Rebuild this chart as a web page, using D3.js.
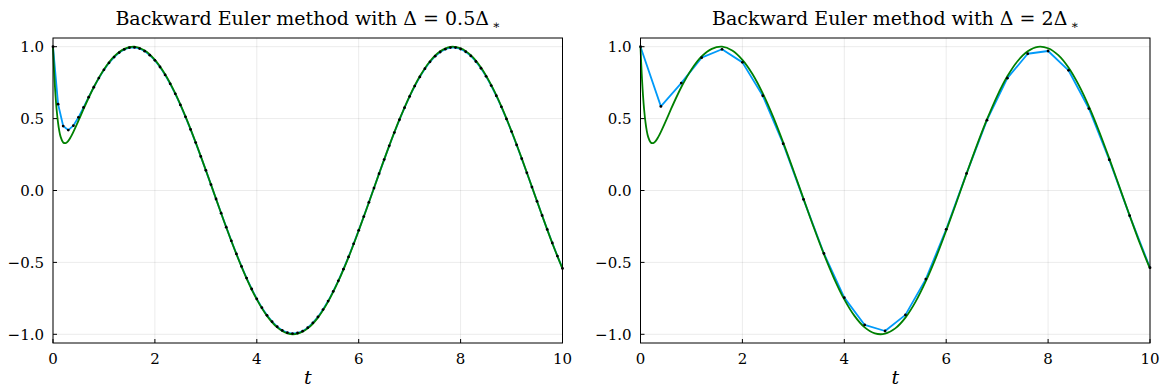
<!DOCTYPE html>
<html>
<head>
<meta charset="utf-8">
<script src="https://cdn.jsdelivr.net/npm/d3@7"></script>
<style>
  body { margin: 0; background: #fff; }
</style>
</head>
<body>
<script>
// exact solution samples
const tExact = [0, 0.01, 0.02, 0.03, 0.05, 0.07, 0.1, 0.12, 0.15, 0.2, 0.25, 0.3, 0.35, 0.4, 0.5, 0.6, 0.7, 0.8, 0.9,
  1.0, 1.2, 1.4, 1.6, 1.8, 2.0, 2.2, 2.4, 2.6, 2.8, 3.0, 3.2, 3.4, 3.6, 3.8, 4.0, 4.2, 4.4, 4.6, 4.8, 5.0,
  5.2, 5.4, 5.6, 5.8, 6.0, 6.2, 6.4, 6.6, 6.8, 7.0, 7.2, 7.4, 7.6, 7.8, 8.0, 8.2, 8.4, 8.6, 8.8, 9.0,
  9.2, 9.4, 9.6, 9.8, 10.0];
const uExact = [1.0, 0.915, 0.839, 0.771, 0.657, 0.567, 0.468, 0.421, 0.373, 0.334, 0.330, 0.345, 0.373, 0.408, 0.486, 0.567, 0.645, 0.718, 0.783,
  0.842, 0.932, 0.985, 1.000, 0.974, 0.909, 0.809, 0.676, 0.516, 0.335, 0.141, -0.058, -0.256, -0.443, -0.612, -0.757, -0.872, -0.952, -0.994, -0.996, -0.959,
  -0.884, -0.773, -0.631, -0.465, -0.279, -0.083, 0.117, 0.312, 0.494, 0.657, 0.794, 0.899, 0.968, 0.999, 0.989, 0.941, 0.855, 0.734, 0.585, 0.412,
  0.223, 0.025, -0.174, -0.367, -0.544];

// backward Euler, small step
const tSmall = [0, 0.1, 0.2, 0.3, 0.4, 0.5, 0.6, 0.7, 0.8, 0.9, 1.0, 1.1, 1.2, 1.3, 1.4, 1.5, 1.6, 1.7, 1.8, 1.9,
  2.0, 2.1, 2.2, 2.3, 2.4, 2.5, 2.6, 2.7, 2.8, 2.9, 3.0, 3.1, 3.2, 3.3, 3.4, 3.5, 3.6, 3.7, 3.8, 3.9,
  4.0, 4.1, 4.2, 4.3, 4.4, 4.5, 4.6, 4.7, 4.8, 4.9, 5.0, 5.1, 5.2, 5.3, 5.4, 5.5, 5.6, 5.7, 5.8, 5.9,
  6.0, 6.1, 6.2, 6.3, 6.4, 6.5, 6.6, 6.7, 6.8, 6.9, 7.0, 7.1, 7.2, 7.3, 7.4, 7.5, 7.6, 7.7, 7.8, 7.9,
  8.0, 8.1, 8.2, 8.3, 8.4, 8.5, 8.6, 8.7, 8.8, 8.9, 9.0, 9.1, 9.2, 9.3, 9.4, 9.5, 9.6, 9.7, 9.8, 9.9, 10.0];
const uSmall = [1.000, 0.600, 0.448, 0.420, 0.451, 0.509, 0.578, 0.649, 0.718, 0.782, 0.839, 0.888, 0.928, 0.959, 0.981, 0.993, 0.995, 0.987, 0.969, 0.941,
  0.905, 0.859, 0.804, 0.742, 0.672, 0.595, 0.512, 0.425, 0.333, 0.237, 0.140, 0.041, -0.059, -0.158, -0.255, -0.350, -0.441, -0.528, -0.609, -0.685,
  -0.754, -0.815, -0.868, -0.912, -0.947, -0.973, -0.989, -0.995, -0.991, -0.978, -0.954, -0.921, -0.879, -0.828, -0.769, -0.702, -0.628, -0.547, -0.462, -0.371,
  -0.277, -0.181, -0.082, 0.017, 0.117, 0.215, 0.311, 0.403, 0.492, 0.576, 0.654, 0.726, 0.790, 0.847, 0.895, 0.934, 0.963, 0.983, 0.994, 0.994,
  0.984, 0.965, 0.936, 0.897, 0.850, 0.794, 0.730, 0.659, 0.582, 0.498, 0.410, 0.317, 0.221, 0.123, 0.024, -0.075, -0.174, -0.271, -0.365, -0.456, -0.542];

// backward Euler, large step
const tLarge = [0, 0.4, 0.8, 1.2, 1.6, 2.0, 2.4, 2.8, 3.2, 3.6, 4.0, 4.4, 4.8, 5.2, 5.6, 6.0, 6.4, 6.8, 7.2, 7.6, 8.0, 8.4, 8.8, 9.2, 9.6, 10.0];
const uLarge = [1.000, 0.585, 0.747, 0.924, 0.982, 0.891, 0.659, 0.325, -0.062, -0.438, -0.745, -0.935, -0.977, -0.865, -0.616, -0.270,
  0.119, 0.489, 0.781, 0.951, 0.970, 0.836, 0.570, 0.214, -0.175, -0.537];

const xTicks = [0, 2, 4, 6, 8, 10];
const yTicks = [-1.0, -0.5, 0.0, 0.5, 1.0];
const titles = ["0.5", "2"];

const width = 1167, height = 391;
const font = "'DejaVu Serif', serif";
const svg = d3.select("body").append("svg")
  .attr("width", width)
  .attr("height", height)
  .style("font-family", font);

const frameTop = 38, frameBottom = 343;
const yScale = d3.scaleLinear().domain([-1, 1]).range([334.3, 46.7]);

function drawPanel(x0, x1, factor, ts, us) {
  const xScale = d3.scaleLinear().domain([0, 10]).range([x0, x1]);
  const g = svg.append("g");

  // grid
  g.selectAll(".gx").data(xTicks).enter().append("line")
    .attr("x1", d => xScale(d)).attr("x2", d => xScale(d))
    .attr("y1", frameTop).attr("y2", frameBottom)
    .attr("stroke", "#000").attr("stroke-opacity", 0.1).attr("stroke-width", 0.8);
  g.selectAll(".gy").data(yTicks).enter().append("line")
    .attr("x1", x0).attr("x2", x1)
    .attr("y1", d => yScale(d)).attr("y2", d => yScale(d))
    .attr("stroke", "#000").attr("stroke-opacity", 0.1).attr("stroke-width", 0.8);

  const line = d3.line().x(d => xScale(d[0])).y(d => yScale(d[1]));
  const numPts = ts.map((t, i) => [t, us[i]]);
  const exPts = tExact.map((t, i) => [t, uExact[i]]);

  g.append("path").datum(numPts)
    .attr("d", line)
    .attr("fill", "none").attr("stroke", "#009af9").attr("stroke-width", 1.8)
    .attr("stroke-linejoin", "round");
  g.append("path").datum(exPts)
    .attr("d", line.curve(d3.curveCatmullRom.alpha(0.5)))
    .attr("fill", "none").attr("stroke", "#008000").attr("stroke-width", 1.8);
  g.selectAll(".dot").data(numPts).enter().append("circle")
    .attr("cx", d => xScale(d[0])).attr("cy", d => yScale(d[1]))
    .attr("r", 1.4).attr("fill", "#000");

  // frame
  g.append("rect")
    .attr("x", x0).attr("y", frameTop)
    .attr("width", x1 - x0).attr("height", frameBottom - frameTop)
    .attr("fill", "none").attr("stroke", "#000").attr("stroke-width", 1);

  // ticks (inward)
  g.selectAll(".tx").data(xTicks).enter().append("line")
    .attr("x1", d => xScale(d)).attr("x2", d => xScale(d))
    .attr("y1", frameBottom).attr("y2", frameBottom - 4)
    .attr("stroke", "#000");
  g.selectAll(".ty").data(yTicks).enter().append("line")
    .attr("x1", x0).attr("x2", x0 + 4)
    .attr("y1", d => yScale(d)).attr("y2", d => yScale(d))
    .attr("stroke", "#000");

  g.selectAll(".lx").data(xTicks).enter().append("text")
    .attr("x", d => xScale(d)).attr("y", 364)
    .attr("text-anchor", "middle").attr("font-size", 15)
    .attr("font-family", font)
    .text(d => d);
  g.selectAll(".ly").data(yTicks).enter().append("text")
    .attr("x", x0 - 9).attr("y", d => yScale(d) + 5.5)
    .attr("text-anchor", "end").attr("font-size", 15)
    .attr("font-family", font)
    .text(d => d.toFixed(1).replace("-", "\u2212"));

  const cx = (x0 + x1) / 2;
  const title = g.append("text")
    .attr("x", cx).attr("y", 25)
    .attr("text-anchor", "middle").attr("font-size", 19)
    .attr("font-family", font);
  title.append("tspan").text("Backward Euler method with \u0394 = " + factor + "\u0394");
  title.append("tspan").attr("font-size", 12).attr("dx", 3).attr("dy", 4).text("\u2217");

  g.append("text")
    .attr("x", cx).attr("y", 384)
    .attr("text-anchor", "middle").attr("font-size", 19)
    .attr("font-family", font)
    .attr("font-style", "italic")
    .text("t");
}

drawPanel(53, 562.5, titles[0], tSmall, uSmall);
drawPanel(640.5, 1150, titles[1], tLarge, uLarge);
</script>
</body>
</html>
